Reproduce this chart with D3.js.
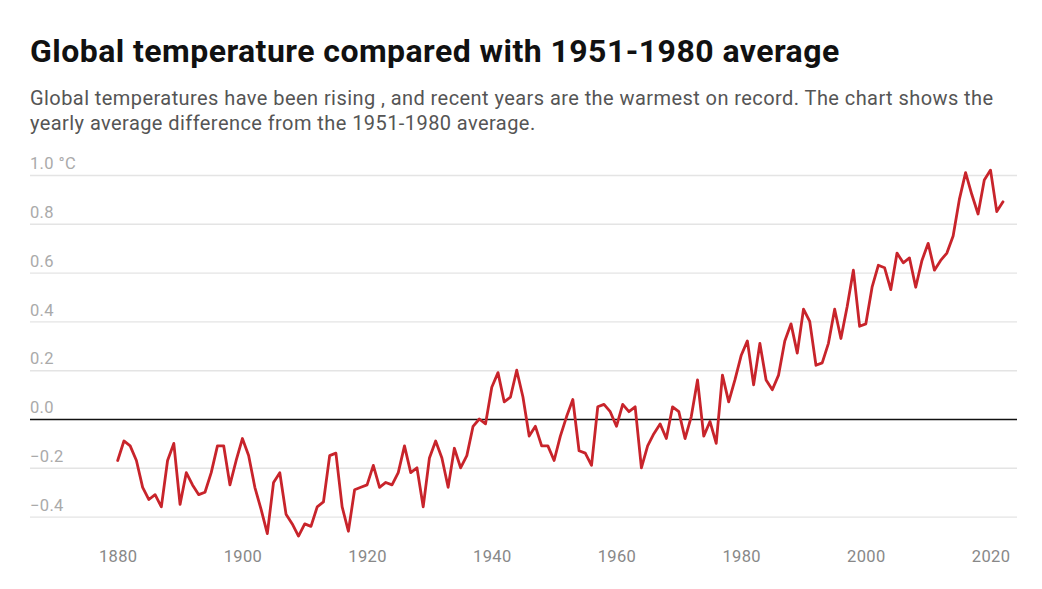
<!DOCTYPE html>
<html><head><meta charset="utf-8">
<script src="https://cdn.jsdelivr.net/npm/d3@7"></script>
<style>
body{margin:0;background:#fff;font-family:Roboto,"Noto Sans",sans-serif;}
svg{display:block;}
</style></head>
<body>
<svg id="chart" width="1042" height="589"></svg>
<script>
const years = d3.range(1880, 2023);
const anomalies = [
-0.17,-0.09,-0.11,-0.17,-0.28,-0.33,-0.31,-0.36,-0.17,-0.10,
-0.35,-0.22,-0.27,-0.31,-0.30,-0.22,-0.11,-0.11,-0.27,-0.17,
-0.08,-0.15,-0.28,-0.37,-0.47,-0.26,-0.22,-0.39,-0.43,-0.48,
-0.43,-0.44,-0.36,-0.34,-0.15,-0.14,-0.36,-0.46,-0.29,-0.28,
-0.27,-0.19,-0.28,-0.26,-0.27,-0.22,-0.11,-0.22,-0.20,-0.36,
-0.16,-0.09,-0.16,-0.28,-0.12,-0.20,-0.15,-0.03,-0.00,-0.02,
0.13,0.19,0.07,0.09,0.20,0.09,-0.07,-0.03,-0.11,-0.11,
-0.17,-0.07,0.01,0.08,-0.13,-0.14,-0.19,0.05,0.06,0.03,
-0.03,0.06,0.03,0.05,-0.20,-0.11,-0.06,-0.02,-0.08,0.05,
0.03,-0.08,0.01,0.16,-0.07,-0.01,-0.10,0.18,0.07,0.16,
0.26,0.32,0.14,0.31,0.16,0.12,0.18,0.32,0.39,0.27,
0.45,0.40,0.22,0.23,0.31,0.45,0.33,0.46,0.61,0.38,
0.39,0.54,0.63,0.62,0.53,0.68,0.64,0.66,0.54,0.65,
0.72,0.61,0.65,0.68,0.75,0.90,1.01,0.92,0.84,0.98,
1.02,0.85,0.89
];
const yTicks = [-0.4,-0.2,0.0,0.2,0.4,0.6,0.8,1.0];
const xTicks = [1880,1900,1920,1940,1960,1980,2000,2020];
const title = "Global temperature compared with 1951-1980 average";
const subtitleLines = [
 "Global temperatures have been rising , and recent years are the warmest on record. The chart shows the",
 "yearly average difference from the 1951-1980 average."
];

const svg = d3.select("#chart");
const x = d3.scaleLinear().domain([1880, 2022]).range([117.7, 1003]);
const y = d3.scaleLinear().domain([0, 1]).range([419, 175]);
const gridLeft = 30, gridRight = 1017;

svg.append("text").attr("x", 30).attr("y", 61.5)
  .attr("font-size", 32).attr("font-weight", 700).attr("fill", "#111")
  .attr("letter-spacing", 0.45)
  .text(title);
svg.selectAll("text.sub").data(subtitleLines).join("text").attr("class","sub")
  .attr("x", 30).attr("y", (d,i) => 105 + i*25)
  .attr("font-size", 20).attr("letter-spacing", 0.43).attr("fill", "#555").text(d => d);

// y grid
const yAxis = d3.axisLeft(y).tickValues(yTicks).tickSize(-(gridRight-gridLeft))
  .tickFormat(d => (d < 0 ? "\u2212" + Math.abs(d).toFixed(1) : d.toFixed(1)) + (d === 1 ? " °C" : ""));
const gy = svg.append("g").attr("transform", `translate(${gridLeft},0)`).call(yAxis);
gy.select(".domain").remove();
gy.selectAll(".tick line").attr("stroke", d => d === 0 ? "#111" : "#e4e4e4")
  .attr("stroke-width", d => d === 0 ? 1.6 : 1.4);
gy.selectAll(".tick text").attr("x", 0).attr("dy", -6.3).attr("text-anchor", "start")
  .attr("font-family", "Roboto, sans-serif").attr("font-size", 16.5).attr("letter-spacing", 0.35).attr("fill", "#aaa");

// x axis labels
const xAxis = d3.axisBottom(x).tickValues(xTicks).tickSize(0).tickFormat(d3.format("d"));
const gx = svg.append("g").attr("transform", `translate(0,545)`).call(xAxis);
gx.select(".domain").remove();
gx.selectAll(".tick text").attr("dy", 0).attr("y", 16.5)
  .attr("font-family", "Roboto, sans-serif").attr("font-size", 16.5).attr("letter-spacing", 0.35).attr("fill", "#888");

// line
const line = d3.line().x((d,i) => x(years[i])).y(d => y(d));
svg.append("path").datum(anomalies).attr("d", line)
  .attr("fill", "none").attr("stroke", "#c8242b").attr("stroke-width", 2.8)
  .attr("stroke-linejoin", "round").attr("stroke-linecap", "round");
</script>
</body></html>
